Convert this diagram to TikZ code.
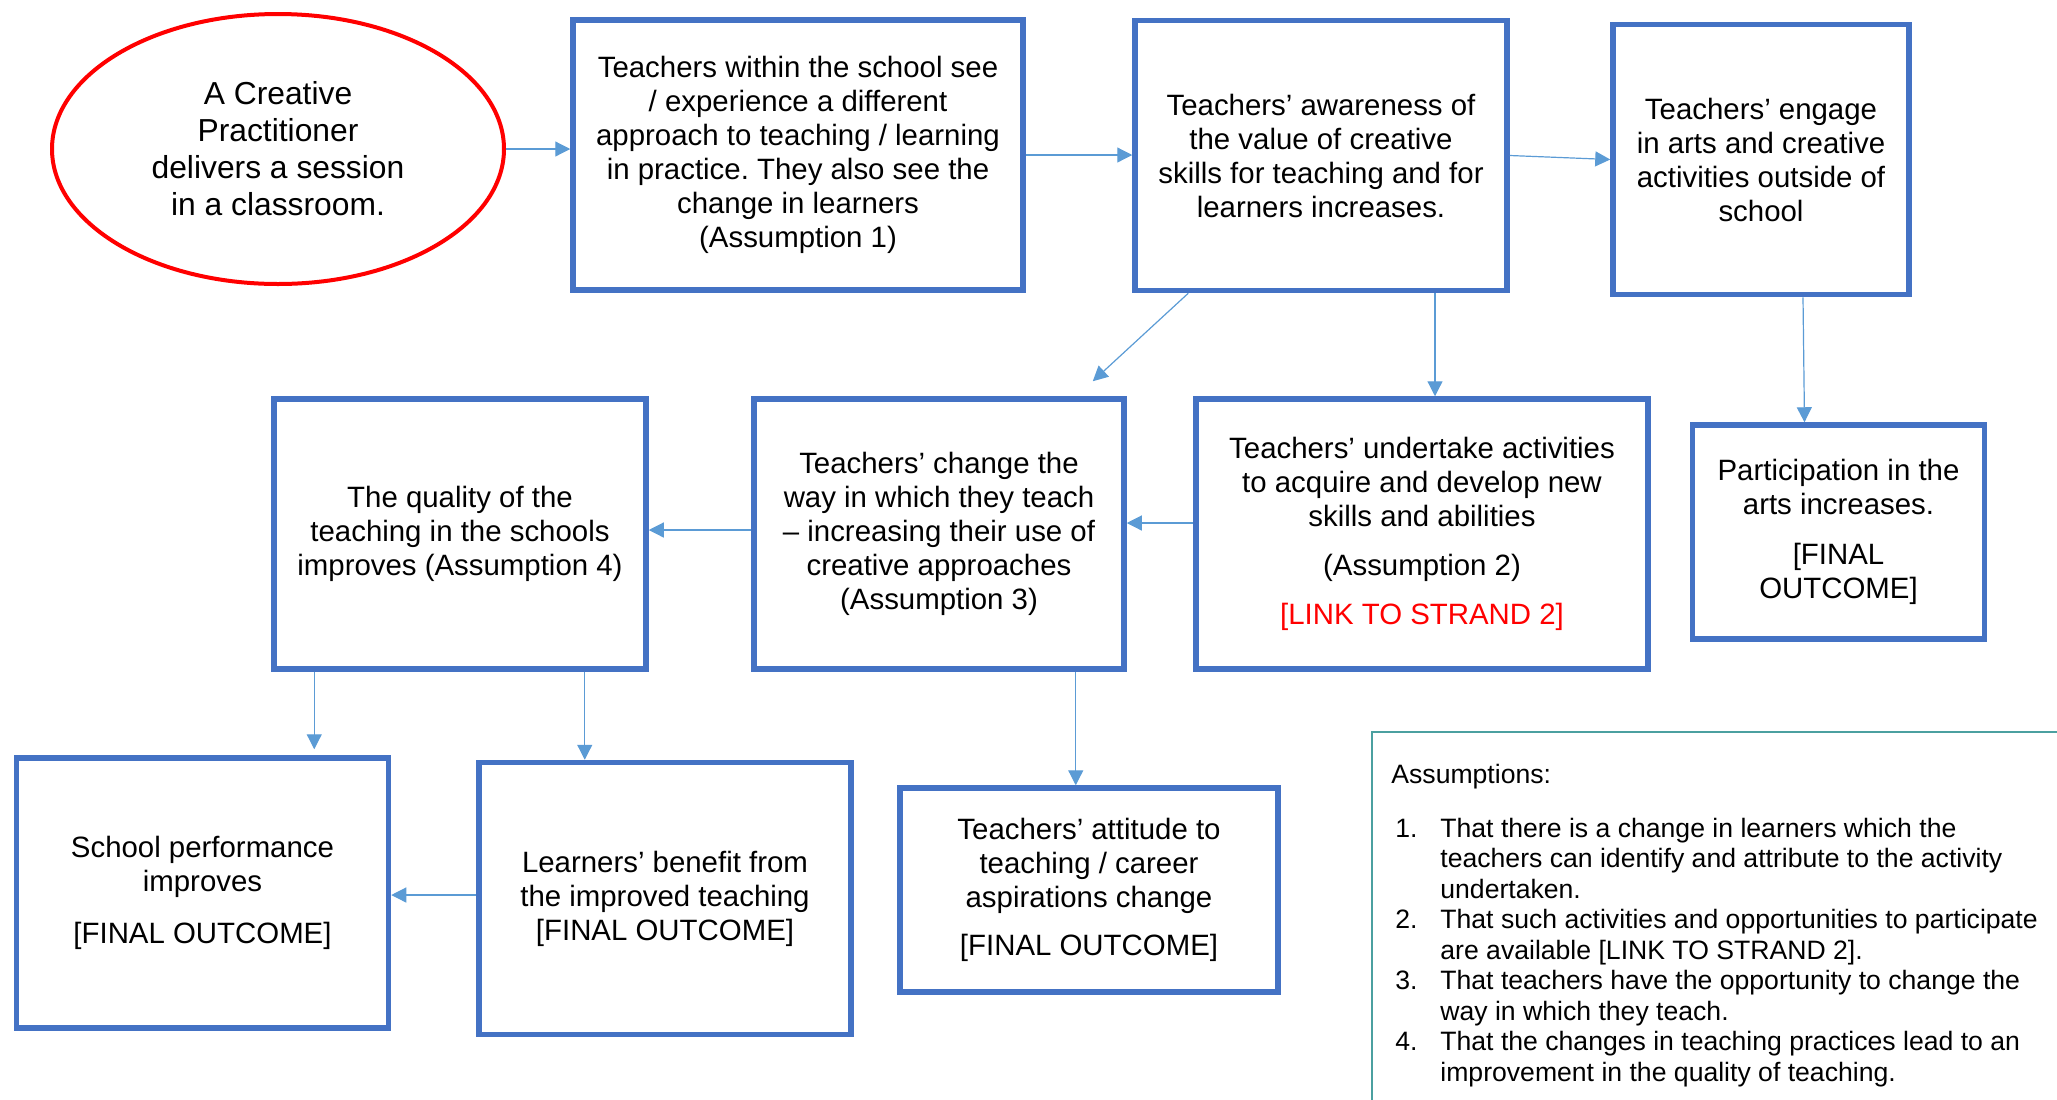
\documentclass[tikz,border=0pt]{standalone}
\usepackage{fontspec}
\setmainfont{Liberation Sans}
\usetikzlibrary{shapes.geometric,arrows.meta,calc}
\definecolor{boxblue}{RGB}{68,114,196}
\definecolor{arrowblue}{RGB}{91,155,213}
\definecolor{noteteal}{RGB}{75,160,160}
\frenchspacing
\begin{document}
\begin{tikzpicture}[x=0.5pt,y=-0.5pt]
        \useasboundingbox (0,0) rectangle (2057,1099);
        \begin{scope}
            \tikzset{ubox/.style = {
                rectangle,
                draw=boxblue,
                line width=2.75pt,
                align=center,
                inner sep=0pt,
                font=\fontsize{14.7}{17}\selectfont } }
            \tikzset{uarrow/.style = {
                draw=arrowblue,
                line width=0.6pt,
                -{Triangle[length=7.5pt,width=7.5pt]} } }
            \tikzset{unote/.style = {
                inner sep=0pt,
                align=left,
                font=\fontsize{13.3}{15.25}\selectfont } }
                % first row
                \node[ellipse, draw=red, line width=2pt, inner sep=0pt,
                    minimum width=226pt, minimum height=135pt, align=center,
                    font=\fontsize{15.9}{18.5}\selectfont] (prac) at (278,149)
                    {A Creative\\Practitioner\\delivers a session\\in a classroom.};
                \node[ubox, minimum width=225pt, minimum height=135pt] (see) at (798,155)
                    {Teachers within the school see\\/ experience a different\\approach to teaching / learning\\in practice. They also see the\\change in learners\\(Assumption 1)};
                \node[ubox, minimum width=186pt, minimum height=135pt] (aware) at (1321,155.5)
                    {Teachers’ awareness of\\the value of creative\\skills for teaching and for\\learners increases.};
                \node[ubox, minimum width=148pt, minimum height=135pt] (engage) at (1761,159.5)
                    {Teachers’ engage\\in arts and creative\\activities outside of\\school};
                % second row
                \node[ubox, minimum width=186pt, minimum height=135pt] (quality) at (460,534)
                    {The quality of the\\teaching in the schools\\improves (Assumption 4)};
                \node[ubox, minimum width=185pt, minimum height=135pt] (change) at (939,534)
                    {Teachers’ change the\\way in which they teach\\– increasing their use of\\creative approaches\\(Assumption 3)};
                \node[ubox, minimum width=226pt, minimum height=135pt] (undertake) at (1422,534)
                    {Teachers’ undertake activities\\to acquire and develop new\\skills and abilities\\[7.5pt](Assumption 2)\\[7.5pt]\textcolor{red}{[LINK TO STRAND 2]}};
                \node[ubox, minimum width=146pt, minimum height=107pt] (particip) at (1838.5,532)
                    {Participation in the\\arts increases.\\[8pt][FINAL\\OUTCOME]};
                % third row
                \node[ubox, minimum width=186pt, minimum height=135pt] (school) at (202.5,893)
                    {School performance\\improves\\[9pt][FINAL OUTCOME]};
                \node[ubox, minimum width=186pt, minimum height=136pt] (learners) at (665,898.5)
                    {Learners’ benefit from\\the improved teaching\\{[FINAL OUTCOME]}};
                \node[ubox, minimum width=189pt, minimum height=102pt] (attitude) at (1089,890)
                    {Teachers’ attitude to\\teaching / career\\aspirations change\\[7pt][FINAL OUTCOME]};
                % assumptions
                \node[draw=noteteal, line width=0.75pt, anchor=north west, inner sep=0pt,
                    minimum width=400pt, minimum height=220pt] (assum) at (1371,731) {};
                \node[unote, anchor=base west] (ahead) at (1391,783) {Assumptions:};
                \node[unote, anchor=north west] (alist) at (1395,815.6) {%
                    \begin{tabular}{@{}p{22.5pt}@{}l@{}}
                    1. & That there is a change in learners which the\\
                       & teachers can identify and attribute to the activity\\
                       & undertaken.\\
                    2. & That such activities and opportunities to participate\\
                       & are available [LINK TO STRAND 2].\\
                    3. & That teachers have the opportunity to change the\\
                       & way in which they teach.\\
                    4. & That the changes in teaching practices lead to an\\
                       & improvement in the quality of teaching.
                    \end{tabular}};
                % connectors
                \path[uarrow] (prac.east) -- (prac.east -| see.west);
                \path[uarrow] (see.east) -- (see.east -| aware.west);
                \path[uarrow] (aware.east) -- (engage.west);
                \path[uarrow] ($(aware.south west)+(56,0)$) -- ($(change.north east)+(-34,-15)$);
                \path[uarrow] ($(aware.south)+(114,0)$) coordinate (a2u) -- (a2u |- undertake.north);
                \path[uarrow] ($(engage.south)+(42,0)$) -- ($(particip.north)+(-34,0)$);
                \path[uarrow] ($(undertake.west)+(0,-11)$) coordinate (u2c) -- (u2c -| change.east);
                \path[uarrow] ($(change.west)+(0,-4)$) coordinate (c2q) -- (c2q -| quality.east);
                \path[uarrow] ($(quality.south west)+(43,0)$) coordinate (q2s) -- ($(q2s |- school.north)+(0,-6)$);
                \path[uarrow] ($(quality.south east)+(-64,0)$) coordinate (q2l) -- (q2l |- learners.north);
                \path[uarrow] ($(change.south east)+(-51,0)$) coordinate (c2a) -- (c2a |- attitude.north);
                \path[uarrow] ($(learners.west)+(0,-3.5)$) coordinate (l2s) -- (l2s -| school.east);
        \end{scope}
    \end{tikzpicture}
\end{document}
